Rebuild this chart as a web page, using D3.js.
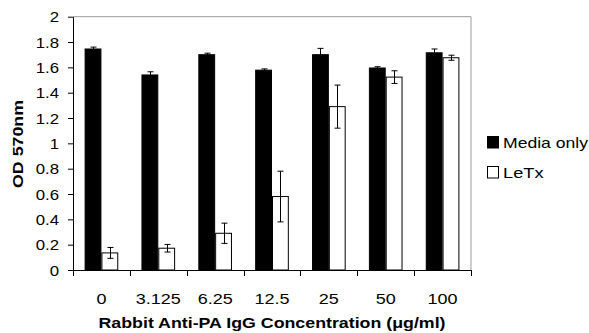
<!DOCTYPE html>
<html><head><meta charset="utf-8">
<script src="https://cdn.jsdelivr.net/npm/d3@7"></script>
<style>
html,body{margin:0;padding:0;background:#fff;}
svg{display:block;font-family:"Liberation Sans",Arial,sans-serif;}
</style></head>
<body><svg id="c" width="589" height="333"></svg>
<script>
const categories = ["0","3.125","6.25","12.5","25","50","100"];
const seriesNames = ["Media only","LeTx"];
const mediaOnly = [1.745, 1.54, 1.70, 1.578, 1.70, 1.595, 1.715];
const mediaOnlyErr = [0.015, 0.025, 0.012, 0.01, 0.05, 0.01, 0.03];
const letx = [0.135, 0.172, 0.29, 0.58, 1.29, 1.523, 1.676];
const letxErr = [0.043, 0.03, 0.08, 0.20, 0.17, 0.05, 0.02];
const yTicks = [0,0.2,0.4,0.6,0.8,1,1.2,1.4,1.6,1.8,2];
const yTickLabels = ["0","0.2","0.4","0.6","0.8","1","1.2","1.4","1.6","1.8","2"];
const xTitle = "Rabbit Anti-PA IgG Concentration (\u03bcg/ml)";
const yTitle = "OD 570nm";

const series = [
  {name: seriesNames[0], values: mediaOnly, errs: mediaOnlyErr, fill: "#000"},
  {name: seriesNames[1], values: letx, errs: letxErr, fill: "#fff"}
];

const svg = d3.select("#c");
const L = 73, R = 471, T = 16.7, B = 270;
const SX = 1.2;

const x = d3.scaleBand().domain(categories).range([L, R]).paddingInner(0).paddingOuter(0);
const x1 = d3.scaleBand().domain(seriesNames).range([0, x.bandwidth()]).paddingInner(0).paddingOuter(0.69);
const y = d3.scaleLinear().domain([0, 2]).range([B, T]);

// plot border (top/right grey)
svg.append("path").attr("d", `M${L},${T}H${R}V${B}`).attr("fill","none").attr("stroke","#9a9a9a").attr("stroke-width",1);

// bars
const g = svg.append("g");
series.forEach(s => {
  categories.forEach((c, i) => {
    const bx = x(c) + x1(s.name);
    const w = x1.bandwidth();
    g.append("rect")
      .attr("x", bx + 0.5).attr("y", y(s.values[i]))
      .attr("width", w - 1).attr("height", y(0) - y(s.values[i]))
      .attr("fill", s.fill).attr("stroke", "#000").attr("stroke-width", 1);
    const cx = Math.round(bx + w / 2) + 0.5;
    const hi = y(s.values[i] + s.errs[i]), lo = y(s.values[i] - s.errs[i]);
    g.append("path")
      .attr("d", `M${cx},${hi}V${lo}M${cx-3},${hi}H${cx+3}M${cx-3},${lo}H${cx+3}`)
      .attr("stroke", "#000").attr("stroke-width", 1).attr("fill","none");
  });
});

function stretchText(sel, sx) {
  sel.each(function(){
    const t = d3.select(this);
    const tx = +t.attr("x") || 0, ty = +t.attr("y") || 0;
    t.attr("x", 0).attr("y", 0).attr("transform", `translate(${tx},${ty}) scale(${sx},1)`);
  });
}

// y axis
const yAxis = svg.append("g").attr("transform", `translate(${L},0)`)
  .call(d3.axisLeft(y).tickValues(yTicks).tickSize(5).tickSizeOuter(0)
    .tickFormat((d, i) => yTickLabels[i]));
yAxis.select(".domain").attr("stroke","#000");
yAxis.selectAll(".tick line").attr("stroke","#000");
yAxis.selectAll(".tick text").attr("font-size", 14).attr("font-family","Liberation Sans, Arial, sans-serif")
  .attr("fill","#000").attr("x", -14).attr("dy", null).attr("y", 5);
stretchText(yAxis.selectAll(".tick text"), SX);

// x axis
const xAxis = svg.append("g").attr("transform", `translate(0,${B})`)
  .call(d3.axisBottom(x).tickSize(0).tickSizeOuter(0).tickPadding(0));
xAxis.select(".domain").attr("stroke","#000").attr("d", `M${L},0.5H${R}`);
xAxis.selectAll(".tick text").attr("font-size", 15).attr("font-family","Liberation Sans, Arial, sans-serif")
  .attr("fill","#000").attr("dy", null).attr("y", 33.5);
stretchText(xAxis.selectAll(".tick text"), SX);
const bounds = categories.map(c => x(c)).concat([x.range()[1]]);
xAxis.selectAll(".bound").data(bounds).join("line").attr("class","bound")
  .attr("x1", d => Math.round(d) + 0.5).attr("x2", d => Math.round(d) + 0.5)
  .attr("y1", 0).attr("y2", 6).attr("stroke","#000");

// titles
svg.append("text").attr("x", (L + R) / 2).attr("y", 328)
  .attr("text-anchor","middle").attr("font-weight","bold").attr("font-size",15)
  .attr("textLength", 347).attr("lengthAdjust","spacingAndGlyphs")
  .text(xTitle);
svg.append("text").attr("transform", `translate(22.5,144) rotate(-90)`)
  .attr("text-anchor","middle").attr("font-weight","bold").attr("font-size",14)
  .attr("textLength", 88).attr("lengthAdjust","spacingAndGlyphs")
  .text(yTitle);

// legend
const leg = svg.append("g");
series.forEach((s, i) => {
  const ly = 136.5 + i * 30;
  leg.append("rect").attr("x", 487.5).attr("y", ly).attr("width", 11).attr("height", 11.5)
    .attr("fill", s.fill).attr("stroke","#000").attr("stroke-width",1);
  leg.append("text").attr("x", 503).attr("y", ly + 11.5).attr("font-size", 15)
    .attr("textLength", i === 0 ? 85 : 40.5).attr("lengthAdjust","spacingAndGlyphs")
    .text(s.name);
});
</script></body></html>
